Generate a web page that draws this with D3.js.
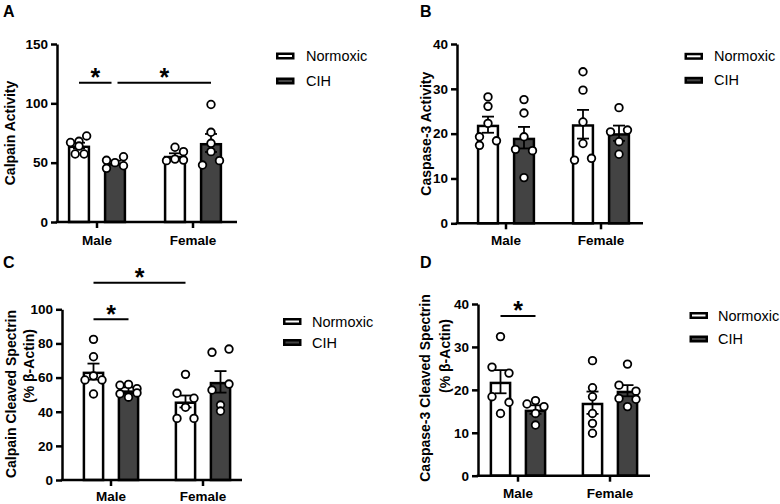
<!DOCTYPE html>
<html><head><meta charset="utf-8">
<script src="https://cdn.jsdelivr.net/npm/d3@7"></script>
<style>
body{margin:0;background:#fff;}
svg{display:block;font-family:"Liberation Sans",Arial,Helvetica,sans-serif;}
</style></head><body>
<svg id="chart" width="780" height="504"></svg>
<script>
// ---------- data ----------
const categories = ["Male", "Female"];
const series = ["Normoxic", "CIH"];
// group order: Male-Normoxic, Male-CIH, Female-Normoxic, Female-CIH
const groups = [["Male","Normoxic"],["Male","CIH"],["Female","Normoxic"],["Female","CIH"]];

// A: Calpain Activity
const calpainActivityTicks = [0, 50, 100, 150];
const calpainActivityMean = [64.4, 50.0, 55.8, 66.6];
const calpainActivitySem = [2.4, 1.7, 2.1, 7.6];
const calpainActivityPoints = [[67, 68, 72.5, 64, 57.3, 57.3], [52, 45.2, 50, 55, 47.4], [51.7, 63, 53, 59.3, 52.2], [99, 75.6, 66.3, 59.3, 48, 51.7]];
const calpainActivityJitter = [[-1, 0, 0.9, 0, -0.45, 0.6], [-1, -1, 0, 1, 1], [-1, 0, 0, 1, 1], [0, 0, 0, 0, -1, 1]];
const calpainActivitySig = [{from: 0, to: 1, y: 117.4, dx: [0, -3.5]}, {from: 1, to: 3, y: 117.4, dx: [2.5, 0]}];

// B: Caspase-3 Activity
const caspaseActivityTicks = [0, 10, 20, 30, 40];
const caspaseActivityMean = [22.0, 19.1, 22.1, 20.1];
const caspaseActivitySem = [1.8, 2.4, 3.2, 1.7];
const caspaseActivityPoints = [[28.2, 26.1, 22.3, 19.3, 17.4, 18.4], [27.6, 24.6, 19.3, 16.5, 16.2, 10.2], [33.8, 29.7, 22.6, 17.8, 14.1, 14.5], [25.8, 20.4, 20.8, 18.2, 15.4]];
const caspaseActivityJitter = [[0, 0, 0, -1, -1, 1], [0, 0, 0, -1, 1, 0], [0, 0, 0, 0, -1, 1], [0, -1, 1, 0, 0]];
const caspaseActivitySig = [];

// C: Calpain Cleaved Spectrin (% β-Actin)
const calpainSpectrinTicks = [0, 20, 40, 60, 80, 100];
const calpainSpectrinMean = [63.5, 52.5, 46.0, 57.5];
const calpainSpectrinSem = [4.7, 1.8, 3.5, 6.3];
const calpainSpectrinPoints = [[82.4, 72.2, 58.6, 61, 58.6, 50.4], [55.5, 56, 53.5, 50.5, 51, 48.5], [61.9, 50.8, 47.9, 42.6, 36.1, 36.1], [74.8, 76.7, 56.2, 52.7, 43.9, 40.4]];
const calpainSpectrinJitter = [[0, 0, -1, 0, 1, 0], [-1, 0, 1, -1, 1, 0], [0, -1, 1, 0, -1, 1], [-1, 1, 1, -1, 0, 0]];
const calpainSpectrinSig = [{from: 0, to: 2, y: 115.6, dx: [0, 0]}, {from: 0, to: 1, y: 94.1, dx: [0, 0]}];

// D: Caspase-3 Cleaved Spectrin (% β-Actin)
const caspaseSpectrinTicks = [0, 10, 20, 30, 40];
const caspaseSpectrinMean = [21.9, 15.4, 17.0, 19.8];
const caspaseSpectrinSem = [2.7, 1.0, 2.6, 1.3];
const caspaseSpectrinPoints = [[32.4, 25.3, 23.9, 18.4, 17.1, 14.5], [16.7, 17.5, 16.1, 14.5, 11.8], [26.8, 20.5, 18.4, 14.5, 12.2, 9.9], [26, 21.1, 19.7, 18, 17.8, 16.1]];
const caspaseSpectrinJitter = [[0, -1, 1, -1, 1, 0], [-1, 0, 1, 0, 0], [0, 0, 0, 0, 0, 0], [0, -1, 1, -1, 1, 0]];
const caspaseSpectrinSig = [{from: 0, to: 1, y: 37.2, dx: [0, 0]}];

// ---------- layout ----------
const panels = [
  {letter: "A", lx: 3, ly: 17, x0: 57, x1: 237, yB: 222, yT: 44, cats: [97, 193], half: 18, yMax: 150,
   ticks: calpainActivityTicks, mean: calpainActivityMean, sem: calpainActivitySem, pts: calpainActivityPoints, jit: calpainActivityJitter, sig: calpainActivitySig,
   labels: [["Calpain Activity", 10, 133]], xdy: 23, leg: {x: 276, ys: [56, 81], tx: 306}},
  {letter: "B", lx: 420, ly: 17, x0: 457, x1: 643, yB: 223.3, yT: 44, cats: [506, 601], half: 18, yMax: 40,
   ticks: caspaseActivityTicks, mean: caspaseActivityMean, sem: caspaseActivitySem, pts: caspaseActivityPoints, jit: caspaseActivityJitter, sig: caspaseActivitySig,
   labels: [["Caspase-3 Activity", 426, 133.7]], xdy: 22, leg: {x: 684.5, ys: [56.3, 80.3], tx: 714}},
  {letter: "C", lx: 3, ly: 268, x0: 62, x1: 242, yB: 480, yT: 309.3, cats: [111, 203], half: 17.5, yMax: 100,
   ticks: calpainSpectrinTicks, mean: calpainSpectrinMean, sem: calpainSpectrinSem, pts: calpainSpectrinPoints, jit: calpainSpectrinJitter, sig: calpainSpectrinSig,
   labels: [["Calpain Cleaved Spectrin", 11, 394], ["(% β-Actin)", 28.5, 366]], xdy: 20.5, leg: {x: 283, ys: [321.5, 342.5], tx: 312}},
  {letter: "D", lx: 420, ly: 268, x0: 478, x1: 650, yB: 475.7, yT: 304, cats: [518, 610], half: 17.5, yMax: 40,
   ticks: caspaseSpectrinTicks, mean: caspaseSpectrinMean, sem: caspaseSpectrinSem, pts: caspaseSpectrinPoints, jit: caspaseSpectrinJitter, sig: caspaseSpectrinSig,
   labels: [["Caspase-3 Cleaved Spectrin", 425, 388], ["(% β-Actin)", 444.5, 356]], xdy: 22.5, leg: {x: 689.5, ys: [315.5, 339], tx: 718}}
];

const fillColor = {Normoxic: "#ffffff", CIH: "#434343"};
const SW = 2.5;
const svg = d3.select("#chart");

panels.forEach(cfg => {
  const g = svg.append("g");
  const y = d3.scaleLinear().domain([0, cfg.yMax]).range([cfg.yB, cfg.yT]);
  const x = d3.scalePoint().domain(categories).range(cfg.cats);
  const s = d3.scaleBand().domain(series).range([-2 * cfg.half, 2 * cfg.half]).paddingInner(0.38).paddingOuter(0.19);
  const bw = s.bandwidth();
  const cx = i => x(groups[i][0]) + s(groups[i][1]) + bw / 2;

  // panel letter
  g.append("text").attr("x", cfg.lx).attr("y", cfg.ly).attr("font-size", 16).attr("font-weight", "bold").text(cfg.letter);

  // y label(s)
  cfg.labels.forEach(([t, lx, ly]) => {
    g.append("text").attr("transform", `translate(${lx},${ly}) rotate(-90)`)
      .attr("text-anchor", "middle").attr("dominant-baseline", "central")
      .attr("font-size", 14).attr("font-weight", "bold").text(t);
  });

  // bars
  const data = groups.map((gr, i) => ({i, cat: gr[0], ser: gr[1], mean: cfg.mean[i], sem: cfg.sem[i], pts: cfg.pts[i], jit: cfg.jit[i]}));
  g.selectAll("rect.bar").data(data).join("rect").attr("class", "bar")
    .attr("x", d => cx(d.i) - bw / 2 + SW / 2)
    .attr("width", bw - SW)
    .attr("y", d => y(d.mean) + SW / 2)
    .attr("height", d => cfg.yB - y(d.mean) - SW / 2)
    .attr("fill", d => fillColor[d.ser]).attr("stroke", "#000").attr("stroke-width", SW);

  // error bars
  const capW = 12;
  const eb = g.selectAll("g.err").data(data).join("g").attr("class", "err").attr("stroke", "#000").attr("stroke-width", 1.8);
  eb.append("line").attr("x1", d => cx(d.i)).attr("x2", d => cx(d.i)).attr("y1", d => y(d.mean - d.sem)).attr("y2", d => y(d.mean + d.sem));
  eb.append("line").attr("x1", d => cx(d.i) - capW / 2).attr("x2", d => cx(d.i) + capW / 2).attr("y1", d => y(d.mean + d.sem)).attr("y2", d => y(d.mean + d.sem));
  eb.append("line").attr("x1", d => cx(d.i) - capW / 2).attr("x2", d => cx(d.i) + capW / 2).attr("y1", d => y(d.mean - d.sem)).attr("y2", d => y(d.mean - d.sem));

  // points
  const jitterUnit = 8.5;
  const pts = data.flatMap(d => d.pts.map((v, k) => ({v, x: cx(d.i) + d.jit[k] * jitterUnit})));
  g.selectAll("circle.pt").data(pts).join("circle").attr("class", "pt")
    .attr("cx", d => d.x).attr("cy", d => y(d.v)).attr("r", 3.8)
    .attr("fill", "#fff").attr("stroke", "#000").attr("stroke-width", 1.8);

  // y axis
  g.append("g").attr("transform", `translate(${cfg.x0},0)`)
    .call(d3.axisLeft(y).tickValues(cfg.ticks).tickSize(6).tickSizeOuter(0).tickPadding(3))
    .call(a => {
      a.select(".domain").attr("stroke-width", SW).attr("stroke", "#000");
      a.selectAll(".tick line").attr("stroke-width", SW).attr("stroke", "#000");
      a.selectAll(".tick text").attr("font-size", 13.5).attr("font-weight", "bold").attr("fill", "#000")
        .attr("font-family", "'Liberation Sans', Arial, sans-serif");
    });

  // x axis
  g.append("line").attr("x1", cfg.x0 - SW / 2).attr("x2", cfg.x1).attr("y1", cfg.yB).attr("y2", cfg.yB)
    .attr("stroke", "#000").attr("stroke-width", SW);
  g.selectAll("line.xt").data(categories).join("line").attr("class", "xt")
    .attr("x1", d => x(d)).attr("x2", d => x(d)).attr("y1", cfg.yB).attr("y2", cfg.yB + 6)
    .attr("stroke", "#000").attr("stroke-width", SW);
  g.selectAll("text.xl").data(categories).join("text").attr("class", "xl")
    .attr("x", d => x(d)).attr("y", cfg.yB + cfg.xdy).attr("text-anchor", "middle")
    .attr("font-size", 13.5).attr("font-weight", "bold").text(d => d);

  // significance
  cfg.sig.forEach(sg => {
    const xa = cx(sg.from) + sg.dx[0], xb = cx(sg.to) + sg.dx[1], yy = y(sg.y);
    g.append("line").attr("x1", xa).attr("x2", xb).attr("y1", yy).attr("y2", yy).attr("stroke", "#000").attr("stroke-width", 2);
    const fs = 25;
    g.append("text").attr("x", (xa + xb) / 2).attr("y", yy - 11 + 0.57 * fs).attr("text-anchor", "middle")
      .attr("font-size", fs).attr("font-weight", "bold").text("*");
  });

  // legend
  series.forEach((sr, k) => {
    const ly = cfg.leg.ys[k];
    g.append("rect").attr("x", cfg.leg.x + SW / 2).attr("y", ly - 3.5 + SW / 2).attr("width", 18.5 - SW).attr("height", 7 - SW)
      .attr("fill", fillColor[sr]).attr("stroke", "#000").attr("stroke-width", SW);
    g.append("text").attr("x", cfg.leg.tx).attr("y", ly).attr("dominant-baseline", "central")
      .attr("font-size", 14.5).text(sr);
  });
});
</script>
</body></html>
